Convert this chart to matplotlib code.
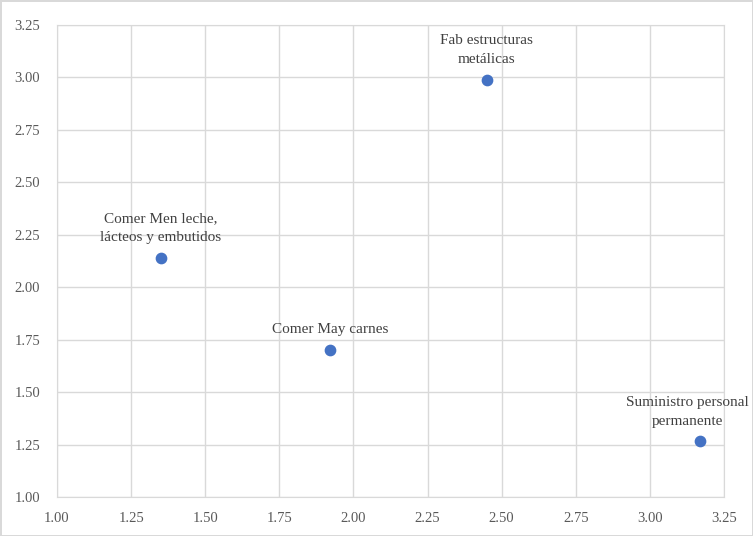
import matplotlib.pyplot as plt
import numpy as np

plt.rcParams['font.family'] = ['Liberation Serif', 'DejaVu Serif']

x = [1.35, 1.92, 2.45, 3.17]
y = [2.14, 1.70, 2.99, 1.265]
labels = ['Comer Men leche,\nlácteos y embutidos',
          'Comer May carnes',
          'Fab estructuras\nmetálicas',
          'Suministro personal\npermanente']
ticks = np.arange(1.0, 3.26, 0.25)

fig = plt.figure(figsize=(7.53, 5.36), dpi=100, edgecolor='#d9d9d9', linewidth=2)
ax = fig.add_axes([0.0757, 0.0728, 0.8858, 0.8805])

ax.scatter(x, y, s=55, color='#4472C4', zorder=3)

offsets = [(0, 10), (0, 10), (0, 10), (-9, 10)]
for xi, yi, lab, off in zip(x, y, labels, offsets):
    ax.annotate(lab, (xi, yi), xytext=off, textcoords='offset points',
                ha='center', va='bottom', fontsize=11, color='#404040',
                linespacing=1.55, annotation_clip=False)

ax.set_xlim(1.0, 3.25)
ax.set_ylim(1.0, 3.25)
ax.set_xticks(ticks)
ax.set_yticks(ticks)
ax.set_xticklabels(['%.2f' % t for t in ticks])
ax.set_yticklabels(['%.2f' % t for t in ticks])
ax.tick_params(length=0, labelsize=10.5, colors='#595959')
ax.tick_params(axis='x', pad=11)
ax.tick_params(axis='y', pad=12)
ax.grid(True, color='#d9d9d9', linewidth=1)
ax.set_axisbelow(True)
for s in ax.spines.values():
    s.set_color('#d9d9d9')

fig.savefig('out.png', dpi=100, edgecolor=fig.get_edgecolor())
